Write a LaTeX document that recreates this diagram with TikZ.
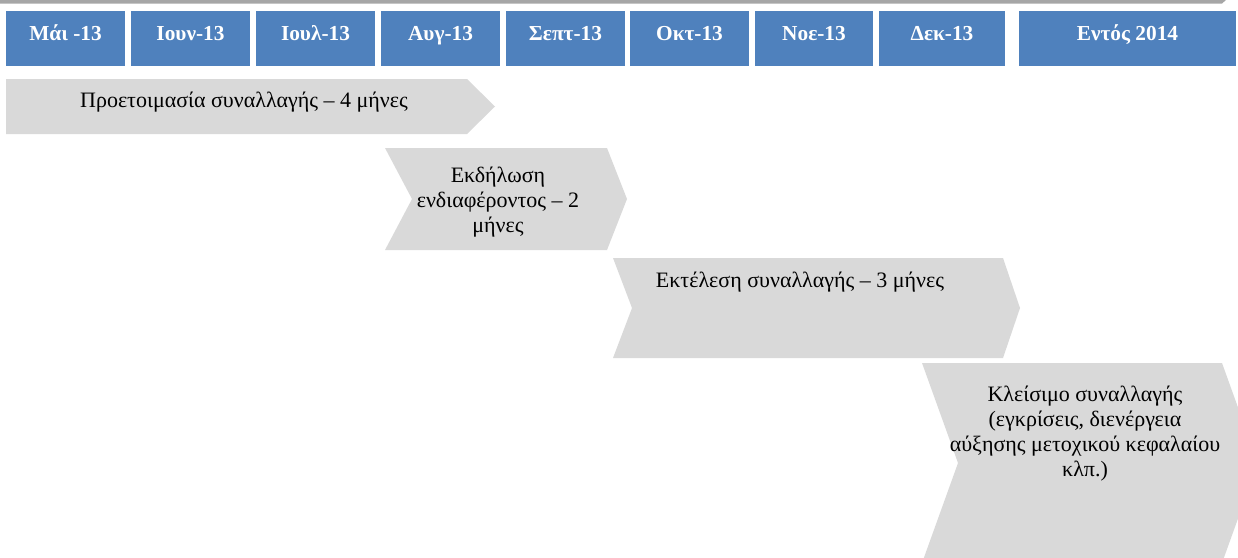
\documentclass[tikz,border=0pt]{standalone}
\usepackage{fontspec}
\setmainfont{Liberation Serif}
\definecolor{hdrblue}{HTML}{4F81BD}
\definecolor{chevgray}{HTML}{D9D9D9}
\definecolor{bargray}{HTML}{A6A6A6}
\begin{document}
\begin{tikzpicture}
[
  x=0.75pt,
  y=-0.75pt,
	hdr/.style={fill=hdrblue,draw=none},
	hdrtext/.style={anchor=base,text=white,font=\fontsize{16}{19}\selectfont\bfseries},
	chev/.style={fill=chevgray,draw=none},
	phase/.style={align=center,inner sep=0pt,font=\fontsize{16.5}{18.75}\selectfont}
]

\useasboundingbox (0,0) rectangle (1238,557);
\clip (0,0) rectangle (1238,557);

\fill[bargray] (0,0) -- (1226,0) -- (1222,3.5) -- (0,3.5) -- cycle;

\draw (6,11) rectangle (125,66) [hdr] node[hdrtext] (may) at (65.5,40) {Μάι -13};
\draw (131,11) rectangle (250,66) [hdr] node[hdrtext] (jun) at (190.5,40) {Ιουν-13};
\draw (256,11) rectangle (375,66) [hdr] node[hdrtext] (jul) at (315.5,40) {Ιουλ-13};
\draw (381,11) rectangle (500,66) [hdr] node[hdrtext] (aug) at (440.5,40) {Αυγ-13};
\draw (506,11) rectangle (625,66) [hdr] node[hdrtext] (sep) at (565.5,40) {Σεπτ-13};
\draw (630,11) rectangle (749,66) [hdr] node[hdrtext] (oct) at (689.5,40) {Οκτ-13};
\draw (755,11) rectangle (873,66) [hdr] node[hdrtext] (nov) at (814,40) {Νοε-13};
\draw (879,11) rectangle (1005,66) [hdr] node[hdrtext] (dec) at (942,40) {Δεκ-13};
\draw (1019,11) rectangle (1236,66) [hdr] node[hdrtext] (y2014) at (1127.5,40) {Εντός 2014};


\draw[chev] (6,79) -- (467,79) -- (495,106.5) -- (467,134) -- (6,134) -- cycle;
\node[phase,anchor=base] (prep) at (244,107) {Προετοιμασία συναλλαγής – 4 μήνες};

\draw[chev] (385,148) -- (607,148) -- (627,199) -- (607,250) -- (385,250) -- (412,199) -- cycle;
\node[phase] (interest) at (498,202) {Εκδήλωση\\ενδιαφέροντος – 2\\μήνες};

\draw[chev] (613,258) -- (1003,258) -- (1020,308) -- (1003,358) -- (613,358) -- (632,308) -- cycle;
\node[phase,anchor=base] (exec) at (800,287) {Εκτέλεση συναλλαγής – 3 μήνες};

\draw[chev] (922,363) -- (1222,363) -- (1258,463) -- (1222,563) -- (922,563) -- (958,463) -- cycle;
\node[phase] (close) at (1085,434) {Κλείσιμο συναλλαγής\\(εγκρίσεις, διενέργεια\\αύξησης μετοχικού κεφαλαίου\\κλπ.)};

\end{tikzpicture}
\end{document}
